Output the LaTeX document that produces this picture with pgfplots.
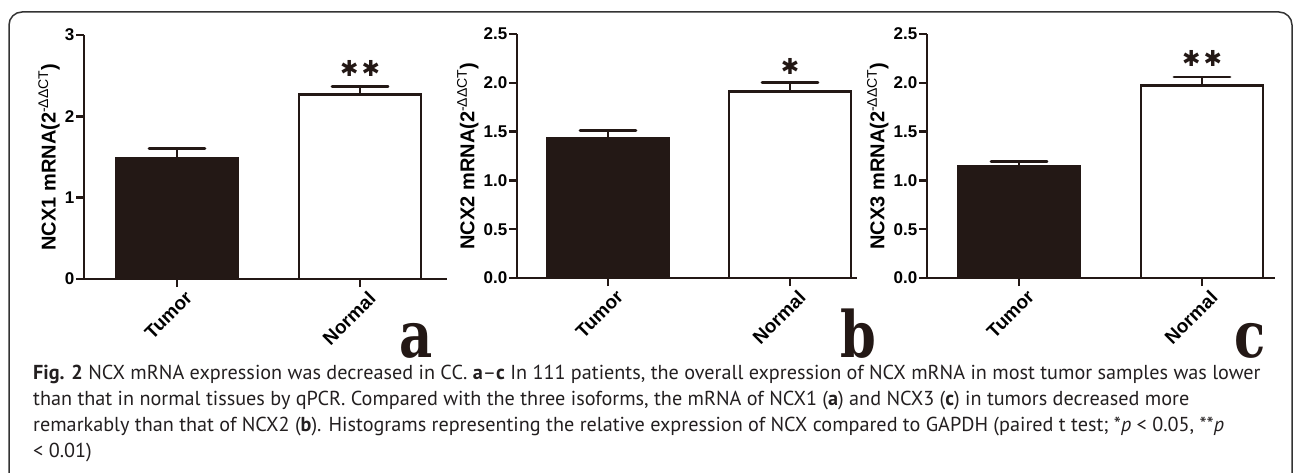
\documentclass[border=0pt]{standalone}
\usepackage{pgfplots}
\pgfplotsset{compat=1.18}
\usepackage{fontspec}
\setmainfont{Liberation Sans}
\newfontfamily\capfont{PT Sans}
\newfontfamily\letterfont{DejaVu Serif}
\newfontfamily\starfamily{DejaVu Sans}
\definecolor{barc}{RGB}{35,24,21}
\definecolor{capc}{RGB}{35,31,32}
\pgfplotsset{
  panel/.style={
    scale only axis, anchor=south west,
    height=244pt,
    axis x line=bottom, axis y line=left,
    axis line style={-, line width=2.6pt, barc},
    enlargelimits=false, ymin=0,
    xtick={1,2}, xticklabels={Tumor,Normal},
    tick align=outside, major tick length=8pt,
    tick style={line width=2.4pt, barc},
    /pgf/number format/assume math mode=true,
    xticklabel style={rotate=45, anchor=north east, font=\fontsize{19}{19}\selectfont\bfseries, inner sep=1pt, xshift=4pt, yshift=-6pt},
    yticklabel style={font=\fontsize{17}{17}\selectfont\bfseries, inner sep=1.5pt},
    ylabel style={font=\fontsize{20}{20}\selectfont\bfseries},
    ybar, bar width=122pt,
    error bars/y dir=plus, error bars/y explicit,
    error bars/error bar style={line width=2.6pt, barc},
    error bars/error mark options={rotate=90, line width=2.8pt, barc, mark size=28pt, line cap=round},
  },
  tumorbar/.style={draw=barc, fill=barc, line width=2.6pt, bar shift=0pt},
  normalbar/.style={draw=barc, fill=white, line width=2.6pt, bar shift=0pt},
}
\newcommand{\starfont}{\starfamily\bfseries\fontsize{22}{22}\selectfont}
\newcommand{\lettersty}{\letterfont\bfseries\fontsize{64}{64}\selectfont}
\begin{document}
\begin{tikzpicture}[x=1pt,y=1pt]
\path[use as bounding box] (0,0) rectangle (1295,472);
\draw[line width=1.5pt, color=black!80, rounded corners=13pt] (9,-20) -- (9,460) -- (1292,460) -- (1292,-20);

% panel a
\begin{axis}[panel, at={(84pt,193pt)}, width=363pt, xmin=0.492, xmax=2.475, ymax=3, ytick={0,1,2,3},
  ylabel={NCX1 mRNA(2\textsuperscript{\mdseries -ΔΔCT})}]
\addplot[tumorbar] coordinates {(1,1.49) +- (0,0.11)};
\addplot[normalbar] coordinates {(2,2.27) +- (0,0.10)};
\node[font=\starfont, text=barc, inner sep=0pt] at (axis cs:2,2.37) [yshift=18pt] {✱\hspace{3pt}✱};
\end{axis}

% panel b
\begin{axis}[panel, at={(517pt,194pt)}, width=340pt, xmin=0.5, xmax=2.368, ymax=2.5,
  ytick={0,0.5,1,1.5,2,2.5}, yticklabel style={/pgf/number format/.cd, fixed, fixed zerofill, precision=1},
  ylabel={NCX2 mRNA(2\textsuperscript{\mdseries -ΔΔCT})}]
\addplot[tumorbar] coordinates {(1,1.43) +- (0,0.08)};
\addplot[normalbar] coordinates {(2,1.91) +- (0,0.09)};
\node[font=\starfont, text=barc, inner sep=0pt] at (axis cs:2,2.0) [yshift=16pt] {✱};
\end{axis}

% panel c
\begin{axis}[panel, at={(927pt,194pt)}, width=348pt, xmin=0.497, xmax=2.399, ymax=2.5,
  ytick={0,0.5,1,1.5,2,2.5}, yticklabel style={/pgf/number format/.cd, fixed, fixed zerofill, precision=1},
  ylabel={NCX3 mRNA(2\textsuperscript{\mdseries -ΔΔCT})}]
\addplot[tumorbar] coordinates {(1,1.14) +- (0,0.05)};
\addplot[normalbar] coordinates {(2,1.97) +- (0,0.09)};
\node[font=\starfont, text=barc, inner sep=0pt] at (axis cs:2,2.06) [yshift=18pt] {✱\hspace{3pt}✱};
\end{axis}

% panel letters
\node[font=\lettersty, xscale=0.8, anchor=base, text=barc] at (416,115) {a};
\node[font=\lettersty, xscale=0.8, anchor=base, text=barc] at (858,115) {b};
\node[font=\lettersty, xscale=0.8, anchor=base, text=barc] at (1250,115) {c};

% caption
\begin{scope}[every node/.style={anchor=base west, inner sep=0pt, font=\capfont\fontsize{20.2}{26}\selectfont, text=capc}]
\node at (33,93) {\textbf{Fig. 2} NCX mRNA expression was decreased in CC. \textbf{a}–\textbf{c} In 111 patients, the overall expression of NCX mRNA in most tumor samples was lower};
\node at (33,67) {than that in normal tissues by qPCR. Compared with the three isoforms, the mRNA of NCX1 (\textbf{a}) and NCX3 (\textbf{c}) in tumors decreased more};
\node at (33,41) {remarkably than that of NCX2 (\textbf{b}). Histograms representing the relative expression of NCX compared to GAPDH (paired t test; *\textit{p} < 0.05, **\textit{p}};
\node at (33,15) {< 0.01)};
\end{scope}
\end{tikzpicture}
\end{document}
